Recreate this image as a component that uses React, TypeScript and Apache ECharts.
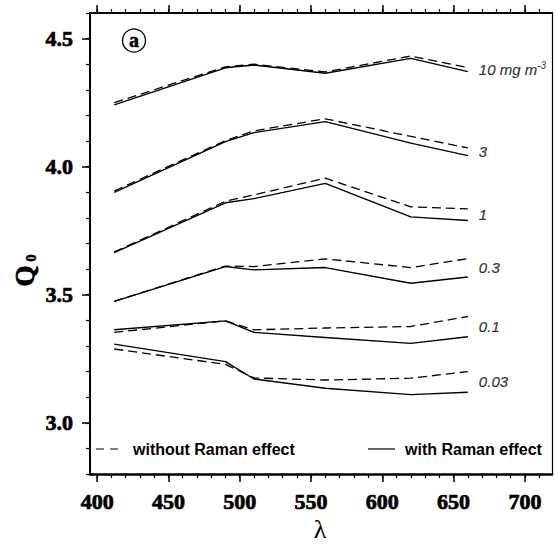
import React, { useEffect, useRef } from "react";
import * as echarts from "echarts";

const wavelengths = [412, 490, 510, 560, 620, 660];
const chlLabels = ["10", "3", "1", "0.3", "0.1", "0.03"];
const withoutRaman = [
  [4.25, 4.39, 4.4, 4.37, 4.432, 4.387],
  [3.905, 4.102, 4.14, 4.187, 4.118, 4.073],
  [3.667, 3.865, 3.89, 3.955, 3.843, 3.835],
  [3.474, 3.612, 3.61, 3.64, 3.606, 3.641],
  [3.353, 3.398, 3.363, 3.37, 3.376, 3.415],
  [3.288, 3.228, 3.175, 3.167, 3.174, 3.2],
];
const withRaman = [
  [4.241, 4.386, 4.397, 4.365, 4.423, 4.371],
  [3.9, 4.098, 4.133, 4.176, 4.092, 4.043],
  [3.664, 3.859, 3.875, 3.935, 3.804, 3.79],
  [3.474, 3.61, 3.597, 3.606, 3.545, 3.569],
  [3.363, 3.398, 3.353, 3.333, 3.31, 3.336],
  [3.307, 3.239, 3.171, 3.135, 3.11, 3.119],
];
const xMajorTicks = [400, 450, 500, 550, 600, 650, 700];
const xMinorTicks = [400, 410, 420, 430, 440, 450, 460, 470, 480, 490, 500, 510, 520, 530, 540, 550, 560, 570, 580, 590, 600, 610, 620, 630, 640, 650, 660, 670, 680, 690, 700, 710];
const yMajorTicks = [3.0, 3.5, 4.0, 4.5];
const yMinorTicks = [2.8, 2.9, 3.0, 3.1, 3.2, 3.3, 3.4, 3.5, 3.6, 3.7, 3.8, 3.9, 4.0, 4.1, 4.2, 4.3, 4.4, 4.5, 4.6];
const legendLabels = ["without Raman effect", "with Raman effect"];

const SERIF = "Liberation Serif";
const SANS = "Liberation Sans";

export default function App() {
  const ref = useRef<HTMLDivElement>(null);
  useEffect(() => {
    if (!ref.current) return;
    const chart = echarts.init(ref.current, null, { renderer: "svg" });

    const lineSeries: any[] = [];
    chlLabels.forEach((_, i) => {
      lineSeries.push({
        type: "line",
        name: legendLabels[0],
        data: wavelengths.map((w, j) => [w, withoutRaman[i][j]]),
        showSymbol: false,
        silent: true,
        lineStyle: { color: "#000", width: 1.3, type: [9, 5] },
      });
      lineSeries.push({
        type: "line",
        name: legendLabels[1],
        data: wavelengths.map((w, j) => [w, withRaman[i][j]]),
        showSymbol: false,
        silent: true,
        lineStyle: { color: "#000", width: 1.4, type: "solid" },
      });
    });
    const last = wavelengths.length - 1;
    const labelSeries = {
      type: "scatter",
      symbolSize: 0,
      silent: true,
      data: chlLabels.map((l, i) => ({
        value: [wavelengths[last], (withoutRaman[i][last] + withRaman[i][last]) / 2],
        label: {
          formatter: i === 0 ? "{t|" + l + " mg m}{s|-3}" : "{t|" + l + "}",
        },
      })),
      label: {
        show: true,
        position: "right",
        distance: 11,
        color: "#000",
        rich: {
          t: { fontFamily: SANS, fontStyle: "italic", fontSize: 15, color: "#000", textBorderColor: "#000", textBorderWidth: 0.2 },
          s: { fontFamily: SANS, fontStyle: "italic", fontSize: 10, color: "#000", padding: [0, 0, 9, 0] },
        },
      },
    };

    const xRange = { min: 395, max: 719 };
    const yRange = { min: 2.8, max: 4.6 };
    const labelFont = {
      color: "#000", fontFamily: SERIF, fontWeight: "bold" as const, fontSize: 22,
      textBorderColor: "#000", textBorderWidth: 0.7,
    };

    chart.setOption({
      animation: false,
      backgroundColor: "#fff",
      grid: { left: 90, right: 3, top: 13, bottom: 70, outerBoundsMode: "none" },
      xAxis: [
        {
          type: "value", position: "bottom", ...xRange,
          axisLine: { show: true, lineStyle: { color: "#000", width: 2.5 } },
          axisTick: { show: true, customValues: xMajorTicks, length: 8, lineStyle: { color: "#000", width: 1.5 } },
          axisLabel: { show: true, customValues: xMajorTicks, margin: 16, ...labelFont },
          splitLine: { show: false },
        },
        {
          type: "value", position: "bottom", ...xRange,
          axisLine: { show: false },
          axisTick: { show: true, customValues: xMinorTicks, length: 4, lineStyle: { color: "#000", width: 1.2 } },
          axisLabel: { show: false },
          splitLine: { show: false },
        },
        {
          type: "value", position: "top", ...xRange,
          axisLine: { show: true, lineStyle: { color: "#000", width: 2 } },
          axisTick: { show: true, customValues: xMajorTicks, length: 8, lineStyle: { color: "#000", width: 1.5 } },
          axisLabel: { show: false },
          splitLine: { show: false },
        },
        {
          type: "value", position: "top", ...xRange,
          axisLine: { show: false },
          axisTick: { show: true, customValues: xMinorTicks, length: 4, lineStyle: { color: "#000", width: 1.2 } },
          axisLabel: { show: false },
          splitLine: { show: false },
        },
      ],
      yAxis: [
        {
          type: "value", position: "left", ...yRange,
          axisLine: { show: true, lineStyle: { color: "#000", width: 2 } },
          axisTick: { show: true, customValues: yMajorTicks, length: 8, lineStyle: { color: "#000", width: 1.5 } },
          axisLabel: {
            show: true, customValues: yMajorTicks, margin: 17, ...labelFont,
            formatter: (v: number) => v.toFixed(1),
          },
          splitLine: { show: false },
        },
        {
          type: "value", position: "left", ...yRange,
          axisLine: { show: false },
          axisTick: { show: true, customValues: yMinorTicks, length: 4, lineStyle: { color: "#000", width: 1.2 } },
          axisLabel: { show: false },
          splitLine: { show: false },
        },
        {
          type: "value", position: "right", ...yRange,
          axisLine: { show: true, lineStyle: { color: "#000", width: 1.2 } },
          axisTick: { show: false },
          axisLabel: { show: false },
          splitLine: { show: false },
        },
      ],
      graphic: [
        { type: "circle", shape: { cx: 134, cy: 40.5, r: 11.5 }, style: { fill: "none", stroke: "#000", lineWidth: 1.3 } },
        { type: "text", x: 134, y: 40, style: { text: "a", fontFamily: SERIF, fontWeight: "bold", fontSize: 20, fill: "#000", stroke: "#000", lineWidth: 0.5, align: "center", verticalAlign: "middle" } },
        { type: "text", x: 25, y: 276, rotation: Math.PI / 2, style: { text: "Q", fontFamily: SERIF, fontWeight: "bold", fontSize: 27, fill: "#000", stroke: "#000", lineWidth: 0.7, align: "center", verticalAlign: "middle" } },
        { type: "text", x: 31, y: 258, rotation: Math.PI / 2, style: { text: "0", fontFamily: SERIF, fontWeight: "bold", fontSize: 15, fill: "#000", stroke: "#000", lineWidth: 0.4, align: "center", verticalAlign: "middle" } },
        { type: "text", x: 320, y: 529, style: { text: "λ", fontFamily: "Liberation Serif, DejaVu Serif", fontSize: 26, fill: "#000", align: "center", verticalAlign: "middle" } },
        { type: "line", shape: { x1: 96, y1: 449, x2: 120, y2: 449 }, style: { stroke: "#000", lineWidth: 1.2, lineDash: [8, 6] } },
        { type: "text", x: 133, y: 449, style: { text: legendLabels[0], fontFamily: SANS, fontWeight: "bold", fontSize: 16, fill: "#000", align: "left", verticalAlign: "middle" } },
        { type: "line", shape: { x1: 368, y1: 449, x2: 395, y2: 449 }, style: { stroke: "#000", lineWidth: 1.2 } },
        { type: "text", x: 405, y: 449, style: { text: legendLabels[1], fontFamily: SANS, fontWeight: "bold", fontSize: 16, fill: "#000", align: "left", verticalAlign: "middle" } },
      ],
      series: [...lineSeries, labelSeries],
    });
    return () => chart.dispose();
  }, []);
  return <div ref={ref} style={{ position: "absolute", left: 0, top: 0, width: 555, height: 544 }} />;
}
